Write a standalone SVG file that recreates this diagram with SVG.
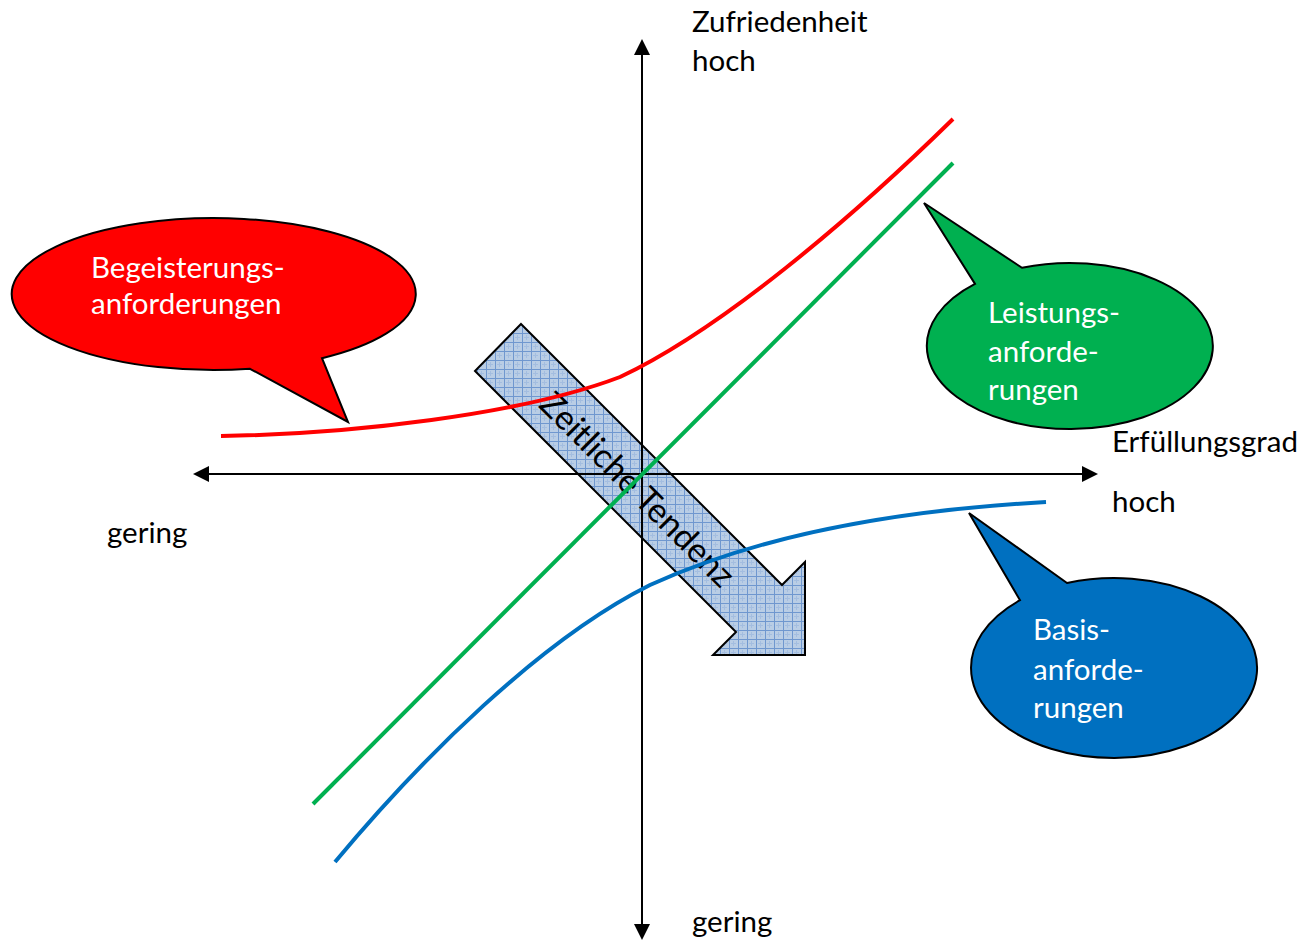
<svg xmlns="http://www.w3.org/2000/svg" width="1302" height="943" viewBox="0 0 1302 943">
<style>
.t{font-family:Lato,"Open Sans","Liberation Sans",sans-serif;font-size:29.5px;fill:#000}
.w{fill:#fff}
.co{stroke:#000;stroke-width:2;stroke-linejoin:miter}
.ax{stroke:#000;stroke-width:2;fill:none}
.cv{fill:none;stroke-width:4;stroke-linecap:butt}
</style>
<defs>
<pattern id="grid" patternUnits="userSpaceOnUse" width="9" height="9">
<rect width="9" height="9" fill="#b9cde5"/>
<path d="M0 0.5H9M0.5 0V9" stroke="#6f97cf" stroke-width="1"/>
<path d="M4.5 2V7M2 4.5H7" stroke="#a3bde0" stroke-width="1"/>
</pattern>
</defs>

<g id="tendenz">
<polygon points="521,324 782,585 805,562 805,655 713,655 736,632 475,371" fill="url(#grid)" stroke="#000" stroke-width="2"/>
<text class="t" style="font-size:34px" transform="translate(637,490) rotate(45)" x="0" y="11" text-anchor="middle">Zeitliche Tendenz</text>
</g>

<g id="axes">
<line class="ax" x1="208" y1="474" x2="1083" y2="474"/>
<polygon points="193,474 209,466 209,482" fill="#000"/>
<polygon points="1098,474 1082,466 1082,482" fill="#000"/>
<line class="ax" x1="642" y1="55" x2="642" y2="925"/>
<polygon points="642,39 634,55 650,55" fill="#000"/>
<polygon points="642,940 634,924 650,924" fill="#000"/>
</g>

<g id="connectors">
<path class="cv" stroke="#ff0000" d="M221,436 C350,434 520,415 620,377 C720,330 850,220 953,119"/>
<path class="cv" stroke="#00b050" d="M313,804 L953,163"/>
<path class="cv" stroke="#0070c0" d="M335,862 C420,760 540,640 650,585 C760,535 900,510 1046,502"/>
</g>

<g id="begeisterung">
<path class="co" fill="#ff0000" d="M250,368.8 L348,422 L322,358.2 A202,76 0 1 0 250,368.8 Z"/>
<text class="t w" x="91" y="278">Begeisterungs-</text>
<text class="t w" x="91" y="314">anforderungen</text>
</g>

<g id="leistung">
<path class="co" fill="#00b050" d="M975,283.9 L924,203 L1022,267.8 A143,83 0 1 1 975,283.9 Z"/>
<text class="t w" x="988" y="323">Leistungs-</text>
<text class="t w" x="988" y="362">anforde-</text>
<text class="t w" x="988" y="400">rungen</text>
</g>

<g id="basis">
<path class="co" fill="#0070c0" d="M1020,600.2 L969,513 L1067,583 A143,90 0 1 1 1020,600.2 Z"/>
<text class="t w" x="1033" y="640">Basis-</text>
<text class="t w" x="1033" y="680">anforde-</text>
<text class="t w" x="1033" y="718">rungen</text>
</g>

<g id="labels">
<text class="t" x="692" y="32">Zufriedenheit</text>
<text class="t" x="692" y="71">hoch</text>
<text class="t" x="1112" y="452">Erfüllungsgrad</text>
<text class="t" x="1112" y="512">hoch</text>
<text class="t" x="107" y="543">gering</text>
<text class="t" x="692" y="932">gering</text>
</g>
</svg>
